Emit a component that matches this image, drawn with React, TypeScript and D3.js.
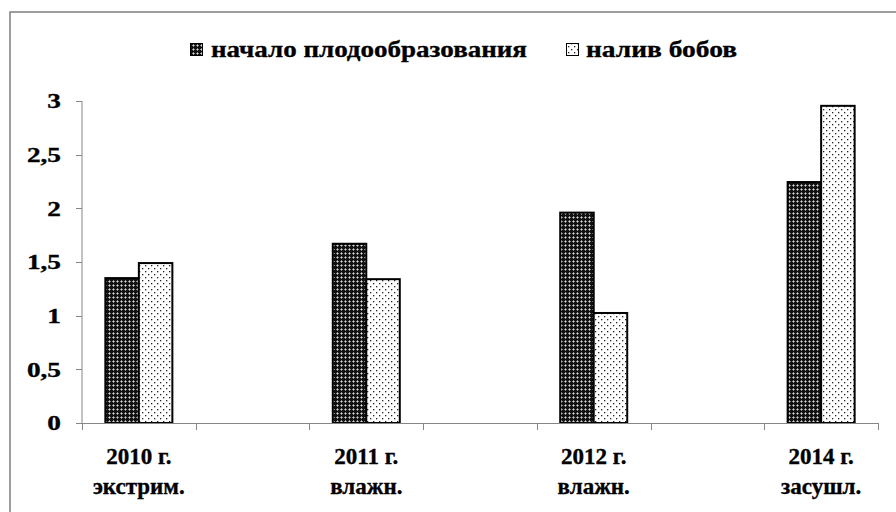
import React from "react";
import * as d3 from "d3";

const categories = ["2010 г.|экстрим.", "", "2011 г.|влажн.", "", "2012 г.|влажн.", "", "2014 г.|засушл."];
const seriesNames = ["начало плодообразования", "налив бобов"];
const fruitingStart = [1.35, null, 1.67, null, 1.96, null, 2.245];
const beanFilling = [1.49, null, 1.34, null, 1.025, null, 2.955];
const yTicks = [0, 0.5, 1, 1.5, 2, 2.5, 3];

const W = 896;
const H = 512;
const FONT = "Liberation Serif";
const BASE = 48;

type TProps = {
  x: number;
  y: number;
  size: number;
  sx?: number;
  anchor?: "start" | "middle" | "end";
  length?: number;
  dy?: string;
  children: React.ReactNode;
};

function T({ x, y, size, sx = 1, anchor = "start", length, dy, children }: TProps) {
  const s = size / BASE;
  return (
    <text
      transform={`translate(${x},${y}) scale(${s * sx},${s})`}
      fontFamily={FONT}
      fontWeight="bold"
      fontSize={BASE}
      textAnchor={anchor}
      dy={dy}
      fill="#000"
      stroke="#000"
      strokeWidth={0.35 / s}
      textLength={length != null ? length / (s * sx) : undefined}
      lengthAdjust={length != null ? "spacingAndGlyphs" : undefined}
    >
      {children}
    </text>
  );
}

export default function App() {
  const x = d3.scaleBand<string>().domain(categories.map((_, i) => String(i))).range([82, 878]).paddingInner(0).paddingOuter(0);
  const bw = x.bandwidth();
  const x1 = d3.scaleBand<string>().domain(seriesNames).range([0, bw]).paddingInner(0).paddingOuter(0.697);
  const y = d3.scaleLinear().domain([0, 3]).range([423, 101]);
  const series = [fruitingStart, beanFilling];
  const fills = ["url(#darkPat)", "url(#lightPat)"];
  const fmt = (v: number) => String(v).replace(".", ",");
  const boundaries = categories.map((_, i) => x(String(i)) as number).concat([x.range()[1]]);

  return (
    <svg width={W} height={H} style={{ position: "absolute", left: 0, top: 0, display: "block", background: "#fff" }}>
      <defs>
        <pattern id="darkPat" width={4} height={4} patternUnits="userSpaceOnUse">
          <rect width={4} height={4} fill="#111" />
          <rect x={1} y={0} width={1} height={3} fill="#8a8a8a" />
          <rect x={0} y={1} width={3} height={1} fill="#8a8a8a" />
          <rect x={1} y={1} width={1} height={1} fill="#d8d8d8" />
        </pattern>
        <pattern id="lightPat" width={6} height={6} patternUnits="userSpaceOnUse">
          <rect width={6} height={6} fill="#fff" />
          <rect x={1} y={1} width={1.3} height={1.3} fill="#222" />
          <rect x={4} y={4} width={1.3} height={1.3} fill="#222" />
        </pattern>
      </defs>
      <rect x={10} y={12} width={W} height={H} fill="none" stroke="#868686" strokeWidth={1.6} />

      {/* legend */}
      <rect x={190.5} y={43.5} width={12} height={12} fill={fills[0]} stroke="#000" strokeWidth={1} />
      <T x={211} y={57} size={24} length={316}>{seriesNames[0]}</T>
      <rect x={566.5} y={43.5} width={12} height={12} fill={fills[1]} stroke="#000" strokeWidth={1} />
      <T x={586} y={57} size={24} length={151}>{seriesNames[1]}</T>

      {/* y axis */}
      <line x1={82} x2={82} y1={y(3)} y2={y(0)} stroke="#868686" strokeWidth={1} />
      {yTicks.map((t) => (
        <g key={t}>
          <line x1={76} x2={82} y1={Math.round(y(t)) + 0.5} y2={Math.round(y(t)) + 0.5} stroke="#868686" />
          <T x={61} y={y(t)} size={22} sx={1.24} anchor="end" dy="0.34em">{fmt(t)}</T>
        </g>
      ))}

      {/* bars */}
      {categories.map((c, i) =>
        series.map((s, k) => {
          const v = s[i];
          if (v == null) return null;
          const bx = (x(String(i)) as number) + (x1(seriesNames[k]) as number);
          return (
            <rect key={`${i}-${k}`} x={bx} y={y(v)} width={x1.bandwidth()} height={y(0) - y(v)} fill={fills[k]} stroke="#000" strokeWidth={2} />
          );
        })
      )}

      {/* x axis */}
      <line x1={82} x2={878} y1={423.5} y2={423.5} stroke="#868686" strokeWidth={1} />
      {boundaries.map((b, i) => (
        <line key={i} x1={Math.round(b) + 0.5} x2={Math.round(b) + 0.5} y1={423} y2={430} stroke="#868686" />
      ))}
      {categories.map((c, i) => {
        if (!c) return null;
        const cx = (x(String(i)) as number) + bw / 2;
        const [l1, l2] = c.split("|");
        return (
          <g key={i}>
            <T x={cx} y={464} size={23} anchor="middle">{l1}</T>
            <T x={cx} y={494} size={23} anchor="middle">{l2}</T>
          </g>
        );
      })}
    </svg>
  );
}
